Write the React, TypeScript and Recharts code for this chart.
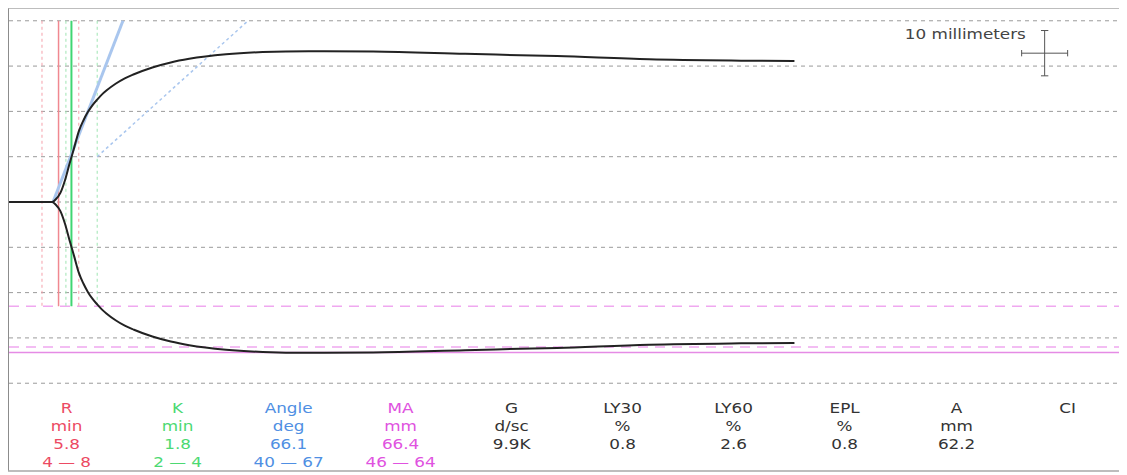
import { ComposedChart, Line, XAxis, YAxis, ReferenceLine } from "recharts";

// trace: time in minutes, half-amplitude in mm
const TIME_MIN = [0.4, 5.1, 5.5, 6.0, 6.5, 7.0, 7.5, 8.0, 8.5, 9.0, 9.5, 10, 10.5, 11, 12, 13, 14, 16, 18, 20, 24, 28, 33, 40, 50, 60, 70, 80, 85.8];
const AMPLITUDE_MM = [0, 0, 0.6, 2.0, 4.8, 8.5, 12, 15.6, 18, 19.9, 21.4, 22.6, 23.7, 24.6, 26.1, 27.3, 28.2, 29.7, 30.8, 31.6, 32.6, 33.1, 33.3, 33.2, 32.7, 32.2, 31.5, 31.2, 31.1];

const GRID_MM = [40, 30, 20, 10, 0, -10, -20, -30, -40];

// marker lines
const R_RANGE = [4, 8];
const R_VALUE = 5.8;
const K_RANGE_LINES = [6.6, 10.0];
const K_LINE = 7.2;
const MARKER_TOP = 40;
const MARKER_BOTTOM = -23;
const ANGLE_LINE = [{ x: 5.2, y: 0 }, { x: 12.8, y: 40 }];
const ANGLE_LOW_LINE = [{ x: 10.0, y: 10 }, { x: 26.4, y: 40 }];
const MA_RANGE_HALF = [-23, -32];
const MA_HALF = -33.2;

// scale cross (10 mm = 5 min)
const SCALE_T = 113;
const SCALE_MM = 32.85;

// results table
const LABELS = ["R", "K", "Angle", "MA", "G", "LY30", "LY60", "EPL", "A", "CI"];
const UNITS = ["min", "min", "deg", "mm", "d/sc", "%", "%", "%", "mm", ""];
const VALUES = ["5.8", "1.8", "66.1", "66.4", "9.9K", "0.8", "2.6", "0.8", "62.2", ""];
const RANGES = ["4 — 8", "2 — 4", "40 — 67", "46 — 64", "", "", "", "", "", ""];
const TEXT_COLORS = ["#ec4a63", "#4cd972", "#4f8fe3", "#e052e0", "#333", "#333", "#333", "#333", "#333", "#333"];

const data = TIME_MIN.map((t, i) => ({ t, up: AMPLITUDE_MM[i], down: -AMPLITUDE_MM[i] }));

const grid = "#9a9a9a";

export default function App() {
  return (
    <div
      style={{
        position: "relative",
        margin: "-1px 0 0 -1px",
        width: 1112,
        height: 461,
        border: "2px solid #bdbdbd",
        borderLeftColor: "#8c8c8c",
        background: "#fff",
        fontFamily: '"DejaVu Sans", Verdana, sans-serif',
      }}
    >
      <ComposedChart width={1112} height={386} data={data} margin={{ top: 0, right: 0, bottom: 0, left: 0 }}>
        <XAxis type="number" dataKey="t" domain={[0.413, 121.3]} hide allowDataOverflow />
        <YAxis type="number" domain={[-42.6, 42.6]} hide allowDataOverflow />

        {GRID_MM.map((v) => (
          <ReferenceLine key={"g" + v} y={v} stroke={grid} strokeDasharray="4 4" />
        ))}

        {MA_RANGE_HALF.map((v) => (
          <ReferenceLine key={"ma" + v} y={v} stroke="#f0a8f0" strokeWidth={1.5} strokeDasharray="10 7" />
        ))}
        <ReferenceLine y={MA_HALF} stroke="#e58be5" strokeWidth={1.5} />

        {R_RANGE.map((v) => (
          <ReferenceLine key={"r" + v} segment={[{ x: v, y: MARKER_TOP }, { x: v, y: MARKER_BOTTOM }]} stroke="#f5a0aa" strokeDasharray="3 3" />
        ))}
        <ReferenceLine segment={[{ x: R_VALUE, y: MARKER_TOP }, { x: R_VALUE, y: MARKER_BOTTOM }]} stroke="#f08890" strokeWidth={1.5} />
        {K_RANGE_LINES.map((v) => (
          <ReferenceLine key={"k" + v} segment={[{ x: v, y: MARKER_TOP }, { x: v, y: MARKER_BOTTOM }]} stroke="#9fe5b2" strokeDasharray="3 3" />
        ))}
        <ReferenceLine segment={[{ x: K_LINE, y: MARKER_TOP }, { x: K_LINE, y: MARKER_BOTTOM }]} stroke="#3fd672" strokeWidth={2} />

        <ReferenceLine segment={ANGLE_LINE} stroke="#a9c6ee" strokeWidth={3} />
        <ReferenceLine segment={ANGLE_LOW_LINE} stroke="#a9c6ee" strokeWidth={1.5} strokeDasharray="3 3" />

        {/* scale cross */}
        <ReferenceLine segment={[{ x: SCALE_T, y: SCALE_MM - 5 }, { x: SCALE_T, y: SCALE_MM + 5 }]} stroke="#555" />
        <ReferenceLine segment={[{ x: SCALE_T - 2.5, y: SCALE_MM }, { x: SCALE_T + 2.5, y: SCALE_MM }]} stroke="#555" />
        <ReferenceLine segment={[{ x: SCALE_T - 0.4, y: SCALE_MM - 5 }, { x: SCALE_T + 0.4, y: SCALE_MM - 5 }]} stroke="#555" />
        <ReferenceLine segment={[{ x: SCALE_T - 0.4, y: SCALE_MM + 5 }, { x: SCALE_T + 0.4, y: SCALE_MM + 5 }]} stroke="#555" />
        <ReferenceLine segment={[{ x: SCALE_T - 2.5, y: SCALE_MM - 0.7 }, { x: SCALE_T - 2.5, y: SCALE_MM + 0.7 }]} stroke="#555" />
        <ReferenceLine segment={[{ x: SCALE_T + 2.5, y: SCALE_MM - 0.7 }, { x: SCALE_T + 2.5, y: SCALE_MM + 0.7 }]} stroke="#555" />

        <Line type="monotone" dataKey="up" stroke="#222" strokeWidth={2} dot={false} isAnimationActive={false} />
        <Line type="monotone" dataKey="down" stroke="#222" strokeWidth={2} dot={false} isAnimationActive={false} />
      </ComposedChart>

      <div
        style={{
          position: "absolute",
          right: 95,
          top: 16,
          fontSize: 14,
          lineHeight: "18px",
          color: "#444",
          transform: "scaleX(1.2)",
          transformOrigin: "right center",
          whiteSpace: "nowrap",
        }}
      >
        10 millimeters
      </div>

      <div style={{ position: "absolute", left: 2, top: 390, width: 1112, display: "flex" }}>
        {LABELS.map((label, i) => (
          <div
            key={label}
            style={{
              width: 111.2,
              textAlign: "center",
              fontSize: 14,
              lineHeight: "18px",
              color: TEXT_COLORS[i],
              transform: "scaleX(1.2)",
              whiteSpace: "nowrap",
            }}
          >
            <div>{label}</div>
            <div>{UNITS[i] || "\u00a0"}</div>
            <div>{VALUES[i] || "\u00a0"}</div>
            <div>{RANGES[i] || "\u00a0"}</div>
          </div>
        ))}
      </div>
    </div>
  );
}
